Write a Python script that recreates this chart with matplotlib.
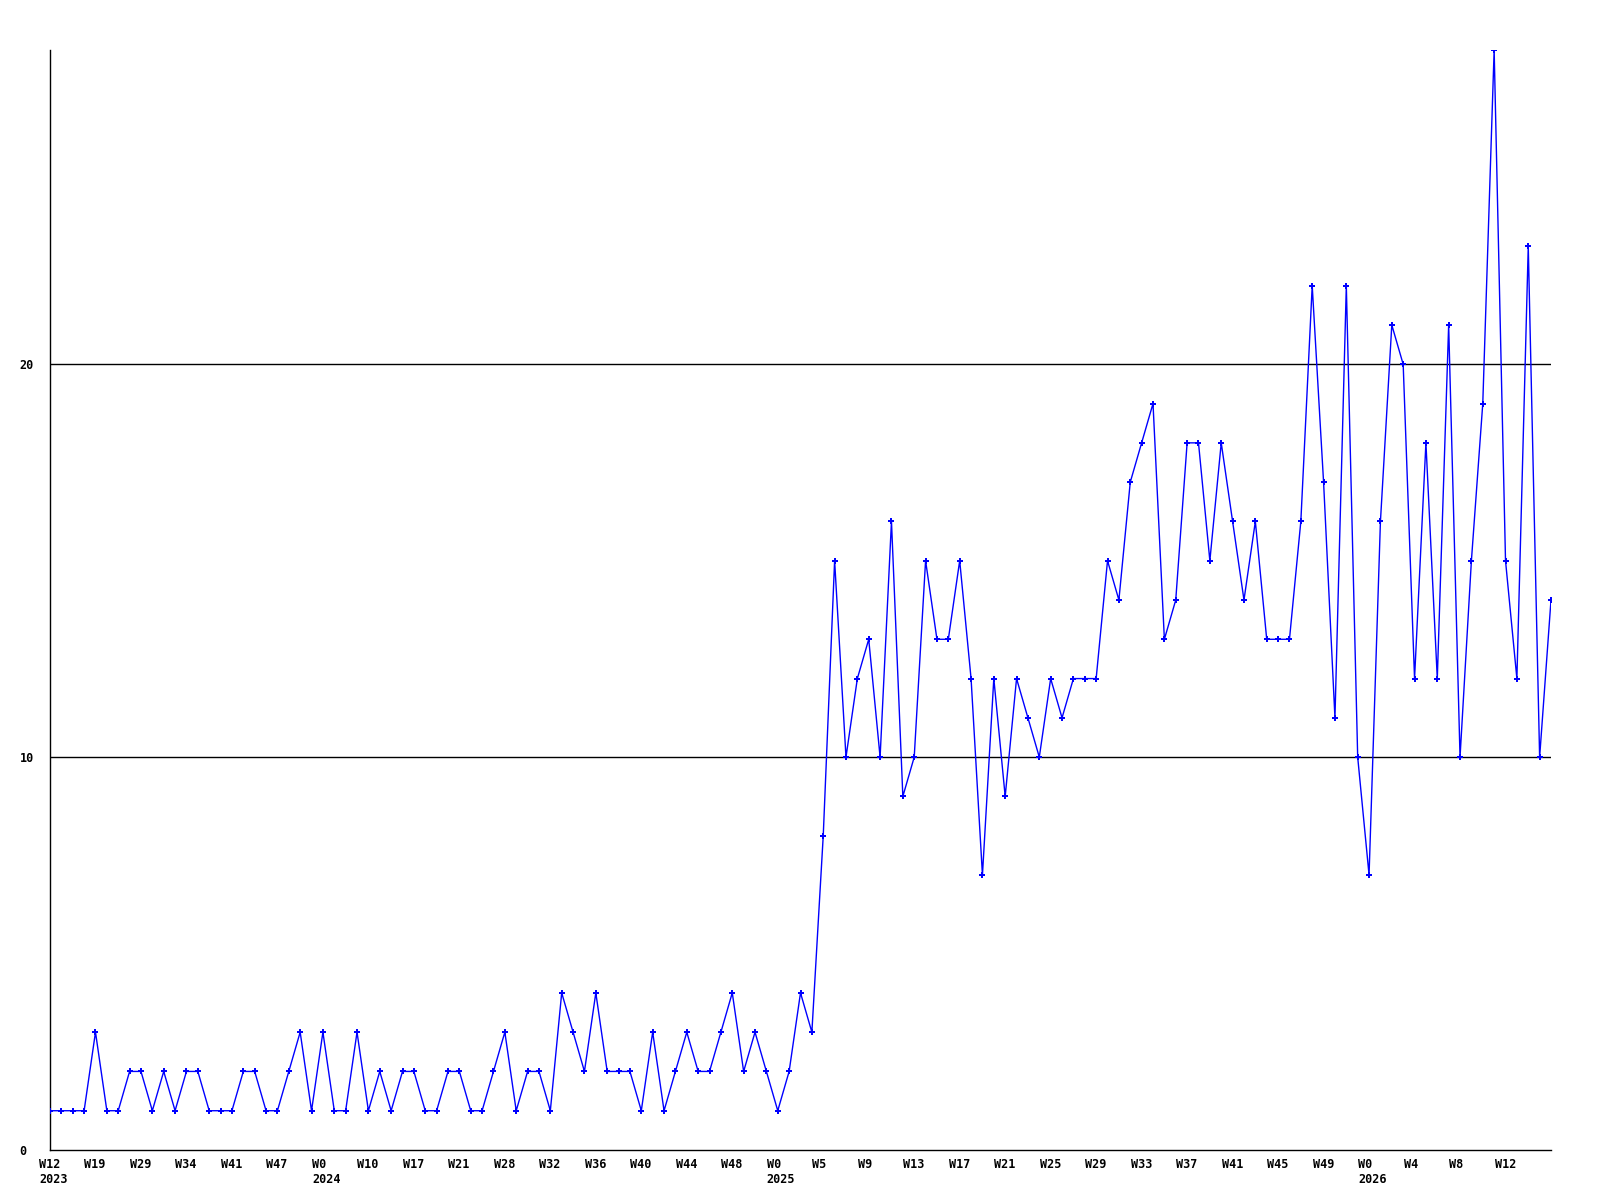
import matplotlib
matplotlib.use("Agg")
import matplotlib.pyplot as plt
import matplotlib.transforms as mtransforms

# weekly counts, one point per week
values = [1, 1, 1, 1, 3, 1, 1, 2, 2, 1, 2, 1, 2, 2, 1, 1, 1, 2, 2, 1,
          1, 2, 3, 1, 3, 1, 1, 3, 1, 2, 1, 2, 2, 1, 1, 2, 2, 1, 1, 2,
          3, 1, 2, 2, 1, 4, 3, 2, 4, 2, 2, 2, 1, 3, 1, 2, 3, 2, 2, 3,
          4, 2, 3, 2, 1, 2, 4, 3, 8, 15, 10, 12, 13, 10, 16, 9, 10, 15, 13, 13,
          15, 12, 7, 12, 9, 12, 11, 10, 12, 11, 12, 12, 12, 15, 14, 17, 18, 19, 13, 14,
          18, 18, 15, 18, 16, 14, 16, 13, 13, 13, 16, 22, 17, 11, 22, 10, 7, 16, 21, 20,
          12, 18, 12, 21, 10, 15, 19, 28, 15, 12, 23, 10, 14]

# one label every 4 points
tick_labels = ["W12\n2023", "W19", "W29", "W34", "W41", "W47", "W0\n2024", "W10",
               "W17", "W21", "W28", "W32", "W36", "W40", "W44", "W48", "W0\n2025",
               "W5", "W9", "W13", "W17", "W21", "W25", "W29", "W33", "W37", "W41",
               "W45", "W49", "W0\n2026", "W4", "W8", "W12"]
y_ticks = [0, 10, 20]

x = list(range(len(values)))

fig = plt.figure(figsize=(16, 12), dpi=100)
ax = fig.add_axes([50 / 1600, 50 / 1200, 1501 / 1600, 1100 / 1200])

for yv in y_ticks[1:]:
    ax.axhline(yv, color="black", lw=1, zorder=1)

ax.plot(x, values, color="#0000ff", lw=1, marker="P", markersize=4,
        markeredgewidth=0, zorder=3)

ax.set_xlim(0, len(values) - 1)
ax.set_ylim(0, 28)

ax.spines["top"].set_visible(False)
ax.spines["right"].set_visible(False)
ax.spines["left"].set_linewidth(1)
ax.spines["bottom"].set_linewidth(1)

ax.set_xticks(x[::4][:len(tick_labels)])
ax.set_xticklabels(tick_labels, fontfamily="DejaVu Sans Mono", fontweight="bold",
                   fontsize=8.5, ha="left", multialignment="left")
ax.set_yticks(y_ticks)
ax.set_yticklabels([str(v) for v in y_ticks], fontfamily="DejaVu Sans Mono",
                   fontweight="bold", fontsize=8.5, ha="left")
ax.tick_params(axis="both", length=0)
ax.tick_params(axis="x", pad=6)
ax.tick_params(axis="y", pad=22)

# shift x labels so they start a bit left of the tick
shift = mtransforms.ScaledTranslation(-11 / 100, 0, fig.dpi_scale_trans)
for lbl in ax.get_xticklabels():
    lbl.set_transform(lbl.get_transform() + shift)

fig.savefig("out.png", dpi=100, facecolor="white")
